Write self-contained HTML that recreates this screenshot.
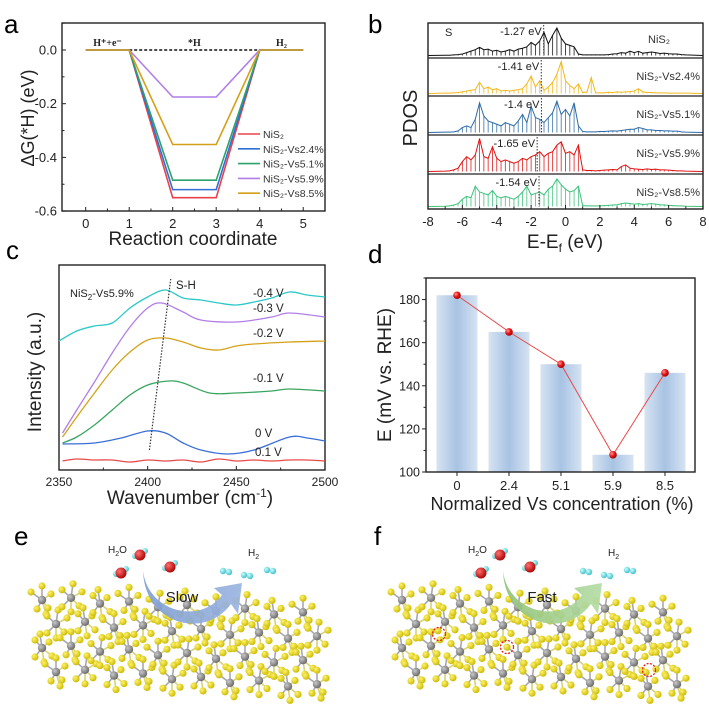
<!DOCTYPE html>
<html><head><meta charset="utf-8"><style>
html,body{margin:0;padding:0;background:#fff}
svg{display:block;font-family:"Liberation Sans",sans-serif}
</style></head><body>
<svg id="fig" width="709" height="724" viewBox="0 0 709 724">
<defs>
<linearGradient id="barg" x1="0" x2="1" y1="0" y2="0"><stop offset="0" stop-color="#d6e3f2"/><stop offset="0.5" stop-color="#a8c3e3"/><stop offset="1" stop-color="#d6e3f2"/></linearGradient>
<radialGradient id="redball" cx="0.35" cy="0.35" r="0.7"><stop offset="0" stop-color="#ff9a9a"/><stop offset="0.5" stop-color="#e81818"/><stop offset="1" stop-color="#900"/></radialGradient>
<radialGradient id="sball" cx="0.35" cy="0.35" r="0.7"><stop offset="0" stop-color="#fff36a"/><stop offset="1" stop-color="#c9b800"/></radialGradient>
<radialGradient id="niball" cx="0.35" cy="0.35" r="0.7"><stop offset="0" stop-color="#c8c8c8"/><stop offset="1" stop-color="#666"/></radialGradient>
<radialGradient id="hball" cx="0.35" cy="0.35" r="0.7"><stop offset="0" stop-color="#c8ffff"/><stop offset="1" stop-color="#3cbcc8"/></radialGradient>
<radialGradient id="oball" cx="0.35" cy="0.35" r="0.7"><stop offset="0" stop-color="#ff7070"/><stop offset="1" stop-color="#a00"/></radialGradient>
<linearGradient id="blueArrow" x1="0" x2="1"><stop offset="0" stop-color="#7f9fd4"/><stop offset="1" stop-color="#9bb4e0"/></linearGradient>
<linearGradient id="greenArrow" x1="0" x2="1"><stop offset="0" stop-color="#8fc27a"/><stop offset="1" stop-color="#b5dca5"/></linearGradient>
</defs>
<g id="pa"></g>
<g id="pb"></g>
<g id="pc"></g>
<g id="pd"></g>
<g id="pe"></g>
<g id="pf"></g>
</svg>
<script>
// ---------- Panel a data ----------
const aSteps = [0,1,2,3,4,5];
const aNames = ["NiS₂","NiS₂-Vs2.4%","NiS₂-Vs5.1%","NiS₂-Vs5.9%","NiS₂-Vs8.5%"];
const aNiS2 = [0,0,-0.55,-0.55,0,0];
const aVs24 = [0,0,-0.52,-0.52,0,0];
const aVs51 = [0,0,-0.485,-0.485,0,0];
const aVs59 = [0,0,-0.175,-0.175,0,0];
const aVs85 = [0,0,-0.352,-0.352,0,0];
const aYTicks = [0.0,-0.2,-0.4,-0.6];
const aXTicks = [0,1,2,3,4,5];
// ---------- Panel b data (E from -7 step 0.25) ----------
const bNames = ["NiS₂","NiS₂-Vs2.4%","NiS₂-Vs5.1%","NiS₂-Vs5.9%","NiS₂-Vs8.5%"];
const bCenters = [-1.27,-1.41,-1.4,-1.65,-1.54];
const bNiS2 = [0.01,0.01,0.02,0.03,0.05,0.1,0.15,0.2,0.28,0.2,0.22,0.15,0.18,0.12,0.15,0.2,0.15,0.22,0.25,0.3,0.45,0.35,0.5,0.8,0.4,0.7,0.95,0.6,0.4,0.35,0.3,0.05,0.02,0.02,0.02,0.02,0.02,0.02,0.03,0.05,0.06,0.1,0.08,0.15,0.1,0.14,0.08,0.1,0.12,0.1,0.07,0.08,0.06,0.05,0.05,0.03,0.02];
const bVs24 = [0.01,0.01,0.02,0.03,0.05,0.08,0.1,0.12,0.35,0.15,0.2,0.12,0.15,0.08,0.1,0.08,0.1,0.12,0.15,0.3,0.55,0.2,0.4,0.1,0.2,0.35,0.6,1.0,0.4,0.25,0.15,0.3,0.03,0.05,0.5,0.02,0.02,0.02,0.04,0.03,0.05,0.04,0.05,0.06,0.08,0.15,0.05,0.03,0.03,0.02,0.02,0.02,0.01,0.01,0.01,0.01,0.01];
const bVs51 = [0.01,0.01,0.02,0.05,0.15,0.2,0.15,0.4,0.9,0.5,0.35,0.3,0.25,0.2,0.3,0.25,0.2,0.35,0.55,0.3,0.8,0.45,0.4,0.3,0.45,0.6,0.95,0.55,0.7,0.5,0.9,0.2,0.03,0.02,0.02,0.02,0.03,0.03,0.04,0.05,0.04,0.06,0.08,0.1,0.1,0.15,0.12,0.08,0.08,0.06,0.06,0.05,0.05,0.04,0.04,0.02,0.01];
const bVs59 = [0.01,0.02,0.05,0.1,0.3,0.45,0.35,0.5,1.0,0.45,0.4,0.75,0.4,0.3,0.35,0.3,0.25,0.3,0.4,0.35,0.45,0.5,0.6,0.45,0.55,0.6,0.8,0.9,0.55,0.6,0.5,0.8,0.05,0.03,0.03,0.02,0.03,0.04,0.05,0.06,0.05,0.15,0.2,0.1,0.08,0.07,0.06,0.08,0.06,0.07,0.05,0.05,0.04,0.03,0.02,0.02,0.01];
const bVs85 = [0.01,0.02,0.05,0.1,0.25,0.35,0.3,0.7,0.5,0.45,0.4,0.55,0.35,0.3,0.35,0.3,0.25,0.35,0.5,0.7,0.4,0.45,0.5,0.4,0.6,0.7,0.95,0.75,0.6,0.5,0.55,0.7,0.03,0.02,0.02,0.02,0.02,0.03,0.04,0.05,0.06,0.1,0.12,0.1,0.08,0.1,0.07,0.08,0.1,0.08,0.06,0.05,0.04,0.03,0.02,0.02,0.01];
const bXTicks = [-8,-6,-4,-2,0,2,4,6,8];
// ---------- Panel c data ----------
const cLabels = ["-0.4 V","-0.3 V","-0.2 V","-0.1 V","0 V","0.1 V"];
const cX_m04 = [2350,2360,2370,2380,2390,2400,2410,2420,2430,2440,2450,2460,2470,2480,2490,2500];
const cY_m04 = [129,139,144,147,162,173,180,172,170,167,165,168,172,178,175,173];
const cX_m03 = [2352,2360,2370,2380,2390,2400,2408,2420,2430,2450,2470,2480,2500];
const cY_m03 = [37,60,88,117,143,162,167,158,150,148,153,157,153];
const cX_m02 = [2352,2360,2370,2380,2390,2400,2410,2420,2430,2440,2450,2460,2480,2500];
const cY_m02 = [33,53,77,100,118,130,132,128,122,120,124,126,128,129];
const cX_m01 = [2352,2360,2370,2380,2390,2400,2412,2420,2435,2450,2470,2480,2500];
const cY_m01 = [27,33,45,60,75,85,89,87,77,77,79,81,79];
const cX_0 = [2352,2370,2385,2400,2410,2420,2430,2445,2460,2480,2490,2500];
const cY_0 = [26,27,32,39,37,27,20,16,20,33,32,29];
const cX_01 = [2352,2360,2370,2380,2390,2400,2410,2420,2430,2440,2450,2460,2470,2480,2490,2500];
const cY_01 = [9,11,10,10,8,10,9,10,8,11,9,10,9,10,10,9];
const cXTicks = [2350,2400,2450,2500];
// ---------- Panel d data ----------
const dCats = ["0","2.4","5.1","5.9","8.5"];
const dVals = [182,165,150,108,146];
const dYTicks = [100,120,140,160,180];

const svg = document.getElementById('fig');
const NS = "http://www.w3.org/2000/svg";
function el(parent, tag, attrs, text){
  const e = document.createElementNS(NS, tag);
  for (const k in attrs) e.setAttribute(k, attrs[k]);
  if (text !== undefined) e.textContent = text;
  parent.appendChild(e);
  return e;
}
function frame(g, x0,y0,x1,y1){
  const r = el(g,'rect',{x:x0,y:y0,width:x1-x0,height:y1-y0,fill:'none',stroke:'#222','stroke-width':1.4});
  
  
}

// ===== Panel a =====
(function(){
  const g = document.getElementById('pa');
  const X0=62,X1=325,Y0=23,Y1=211;
  const sx = v => 85.7 + v*43.5;
  const sy = v => 50 + (-v)/0.2*53.7;
  let t = el(g,'text',{x:4,y:33,'font-size':26},'a');
   
  frame(g,X0,Y0,X1,Y1);
  aYTicks.forEach(v=>{
    el(g,'line',{x1:X0,x2:X0+4,y1:sy(v),y2:sy(v),stroke:'#222'});
    const tl = el(g,'text',{x:X0-5,y:sy(v)+4.5,'font-size':13,'text-anchor':'end',fill:'#222'},v.toFixed(1));
     
  });
  [0.1,-0.1,-0.3,-0.5].forEach(v=>el(g,'line',{x1:X0,x2:X0+2.5,y1:sy(v),y2:sy(v),stroke:'#222'}));
  aXTicks.forEach(v=>{
    el(g,'line',{x1:sx(v),x2:sx(v),y1:Y1,y2:Y1-4,stroke:'#222'});
    const tl = el(g,'text',{x:sx(v),y:Y1+17,'font-size':13,'text-anchor':'middle',fill:'#222'},v);
     
  });
  [0.5,1.5,2.5,3.5,4.5].forEach(v=>el(g,'line',{x1:sx(v),x2:sx(v),y1:Y1,y2:Y1-2.5,stroke:'#222'}));
  t = el(g,'text',{x:193,y:245,'font-size':19,'text-anchor':'middle',fill:'#222'},'Reaction coordinate');
   
  t = el(g,'text',{x:0,y:0,'font-size':18,'text-anchor':'middle',fill:'#222',transform:'translate(34,118) rotate(-90)'},'ΔG(*H)  (eV)');
   
  el(g,'line',{x1:sx(1),x2:sx(4),y1:sy(0),y2:sy(0),stroke:'#111','stroke-width':1.5,'stroke-dasharray':'3,2'});
  const series = [aNiS2,aVs24,aVs51,aVs59,aVs85];
  const cols = ['#e8434b','#2f6fd6','#2ea26a','#b07ee8','#d4a019'];
  series.forEach((s,i)=>{
    const p = el(g,'polyline',{points:aSteps.map((x,k)=>sx(x)+','+sy(s[k])).join(' '),fill:'none',stroke:cols[i],'stroke-width':1.6});
     
    const ly = 134 + i*14.8;
    el(g,'line',{x1:238,x2:260,y1:ly,y2:ly,stroke:cols[i],'stroke-width':1.6});
    const lt = el(g,'text',{x:263,y:ly+4,'font-size':10.5,fill:'#333'},aNames[i]);
     
  });
  const lbl = [['H⁺+e⁻',0.5],['*H',2.5],['H₂',4.5]];
  lbl.forEach(l=>{
    const tt = el(g,'text',{x:sx(l[1]),y:sy(0)-4,'font-size':10,'font-weight':'bold','font-family':'Liberation Serif, serif','text-anchor':'middle',fill:'#222'},l[0]);
     
  });
})();

// ===== Panel b =====
(function(){
  const g = document.getElementById('pb');
  const X0=428,X1=703;
  const sx = v => X0 + (v+8)/16*(X1-X0);
  const bounds = [23,58,96,135,174,209];
  let t = el(g,'text',{x:368,y:33,'font-size':26},'b');
   
  const data = [bNiS2,bVs24,bVs51,bVs59,bVs85];
  const cols = ['#111','#f2b81c','#2e6aa8','#e01010','#3cc07a'];
  data.forEach((d,i)=>{
    const top = bounds[i], bot = bounds[i+1];
    const base = bot - 2.5;
    const h = (bot-top) - 6;
    const sp = el(g,'g',{stroke:cols[i],'stroke-width':0.9,opacity:0.85});
     
    d.forEach((v,k)=>{ el(sp,'line',{x1:sx(-7+k*0.25),x2:sx(-7+k*0.25),y1:base,y2:base-v*h}); });
    const pts = d.map((v,k)=>sx(-7+k*0.25)+','+(base - v*h)).join(' ');
    const p = el(g,'polyline',{points:sx(-8)+','+base+' '+pts+' '+sx(8)+','+base,fill:'none',stroke:cols[i],'stroke-width':1,'stroke-linejoin':'miter'});
     
    el(g,'line',{x1:sx(bCenters[i]),x2:sx(bCenters[i]),y1:top+2,y2:base,stroke:'#333','stroke-dasharray':'1.5,1.5','stroke-width':1});
    const ct = el(g,'text',{x:sx(bCenters[i])-2,y:top+12,'font-size':11,'text-anchor':'end',fill:'#222'},bCenters[i]+' eV');
     
    const nt = i===0 ? el(g,'text',{x:648,y:top+20,'font-size':11,fill:'#333'},bNames[i])
                     : el(g,'text',{x:700,y:top+22,'font-size':11,'text-anchor':'end',fill:'#333'},bNames[i]);
     
    if(i>0) el(g,'line',{x1:X0,x2:X1,y1:top,y2:top,stroke:'#222','stroke-width':1.2});
  });
  frame(g,X0,23,X1,209);
  t = el(g,'text',{x:445,y:36,'font-size':11,fill:'#222'},'S');
   
  bXTicks.forEach(v=>{
    el(g,'line',{x1:sx(v),x2:sx(v),y1:209,y2:205,stroke:'#222'});
    const tl = el(g,'text',{x:sx(v),y:226,'font-size':13,'text-anchor':'middle',fill:'#222'},v);
     
  });
  [-7,-5,-3,-1,1,3,5,7].forEach(v=>el(g,'line',{x1:sx(v),x2:sx(v),y1:209,y2:206.5,stroke:'#222'}));
  t = el(g,'text',{x:565,y:248,'font-size':19,'text-anchor':'middle',fill:'#222'});
   
  el(t,'tspan',{},'E-E');
  el(t,'tspan',{'font-size':12,dy:4},'f');
  el(t,'tspan',{dy:-4},' (eV)');
  t = el(g,'text',{x:0,y:0,'font-size':20,'text-anchor':'middle',fill:'#222',transform:'translate(417,118) rotate(-90)'},'PDOS');
   
})();

// ===== Panel c =====
(function(){
  const g = document.getElementById('pc');
  const X0=59,X1=325,Y0=265,Y1=470;
  const sx = v => X0 + (v-2350)/150*(X1-X0);
  const sy = v => Y1 - v;
  let t = el(g,'text',{x:6,y:259,'font-size':26},'c');
   
  frame(g,X0,Y0,X1,Y1);
  cXTicks.forEach(v=>{
    el(g,'line',{x1:sx(v),x2:sx(v),y1:Y1,y2:Y1-4,stroke:'#222'});
    const tl = el(g,'text',{x:sx(v),y:Y1+16,'font-size':12,'text-anchor':'middle',fill:'#222'},v);
     
  });
  [2375,2425,2475].forEach(v=>el(g,'line',{x1:sx(v),x2:sx(v),y1:Y1,y2:Y1-2.5,stroke:'#222'}));
  function smooth(xs,ys){
    const P = xs.map((x,i)=>[sx(x),sy(ys[i])]);
    let d='M'+P[0][0]+','+P[0][1];
    for(let i=0;i<P.length-1;i++){
      const p0=P[Math.max(0,i-1)],p1=P[i],p2=P[i+1],p3=P[Math.min(P.length-1,i+2)];
      const c1=[p1[0]+(p2[0]-p0[0])/6,p1[1]+(p2[1]-p0[1])/6];
      const c2=[p2[0]-(p3[0]-p1[0])/6,p2[1]-(p3[1]-p1[1])/6];
      d+=' C'+c1+' '+c2+' '+p2;
    }
    return d;
  }
  const S = [[cX_m04,cY_m04,'#2ec8c8'],[cX_m03,cY_m03,'#b17ee6'],[cX_m02,cY_m02,'#d4a21a'],[cX_m01,cY_m01,'#3aa561'],[cX_0,cY_0,'#3a6fd8'],[cX_01,cY_01,'#e84a4a']];
  S.forEach(s=>{
    const p = el(g,'path',{d:smooth(s[0],s[1]),fill:'none',stroke:s[2],'stroke-width':1.3});
     
  });
  const lp = [[253,297],[253,312],[253,337],[253,382],[255,437],[255,456]];
  cLabels.forEach((l,i)=>{
    const tl = el(g,'text',{x:lp[i][0],y:lp[i][1],'font-size':11.5,fill:'#222'},l);
     
  });
  el(g,'line',{x1:sx(2401),x2:sx(2413),y1:450,y2:279,stroke:'#333','stroke-dasharray':'1.5,1.5','stroke-width':1.2});
  t = el(g,'text',{x:176,y:289,'font-size':11.5,fill:'#222'},'S-H');
   
  t = el(g,'text',{x:70,y:297,'font-size':11,fill:'#222'});
   
  el(t,'tspan',{},'NiS'); el(t,'tspan',{'font-size':8,dy:3},'2'); el(t,'tspan',{dy:-3},'-Vs5.9%');
  t = el(g,'text',{x:190,y:504,'font-size':19,'text-anchor':'middle',fill:'#222'});
   
  el(t,'tspan',{},'Wavenumber (cm'); el(t,'tspan',{'font-size':12,dy:-7},'-1'); el(t,'tspan',{dy:7},')');
  t = el(g,'text',{x:0,y:0,'font-size':19,'text-anchor':'middle',fill:'#222',transform:'translate(41,372) rotate(-90)'},'Intensity (a.u.)');
   
})();

// ===== Panel d =====
(function(){
  const g = document.getElementById('pd');
  const X0=426,X1=695,Y0=278,Y1=472;
  const sy = v => Y1 - (v-100)/90*(Y1-Y0);
  const sx = i => 457 + i*52;
  let t = el(g,'text',{x:368,y:263,'font-size':26},'d');
   
  dVals.forEach((v,i)=>{
    const r = el(g,'rect',{x:sx(i)-20.5,y:sy(v),width:41,height:Y1-sy(v),fill:'url(#barg)'});
     
  });
  el(g,'polyline',{points:dVals.map((v,i)=>sx(i)+','+sy(v)).join(' '),fill:'none',stroke:'#e84a4a','stroke-width':1});
  dVals.forEach((v,i)=>{
    const c = el(g,'circle',{cx:sx(i),cy:sy(v),r:3.8,fill:'url(#redball)'});
     
  });
  frame(g,X0,Y0,X1,Y1);
  dYTicks.forEach(v=>{
    el(g,'line',{x1:X0,x2:X0-4,y1:sy(v),y2:sy(v),stroke:'#222'});
    const tl = el(g,'text',{x:X0-6,y:sy(v)+4.5,'font-size':12.5,'text-anchor':'end',fill:'#222'},v);
     
  });
  [110,130,150,170,190].forEach(v=>el(g,'line',{x1:X0,x2:X0-2.5,y1:sy(v),y2:sy(v),stroke:'#222'}));
  dCats.forEach((c,i)=>{
    el(g,'line',{x1:sx(i),x2:sx(i),y1:Y1,y2:Y1+4,stroke:'#222'});
    const tl = el(g,'text',{x:sx(i),y:Y1+18,'font-size':13,'text-anchor':'middle',fill:'#222'},c);
     
  });
  t = el(g,'text',{x:562,y:510,'font-size':18,'text-anchor':'middle',fill:'#222'},'Normalized Vs concentration (%)');
   
  t = el(g,'text',{x:0,y:0,'font-size':19,'text-anchor':'middle',fill:'#222',transform:'translate(391,375) rotate(-90)'},'E (mV vs. RHE)');
   
})();

// ===== Panels e, f (illustrations) =====
function lattice(g, ox, wide){
  const bonds = el(g,'g',{}); const atoms = el(g,'g',{});
   
  const offs = [[-9,-8],[9,-6],[-7,9],[8,8],[0,-14],[2,14]];
  for(let i=0;i<10;i++){
    for(let j=0;j<4;j++){
      const x = ox + 12 + i*29 + (j%2)*14;
      const y = 600 + j*24 + i*1.8 - (i%2)*4;
      if (x > ox+wide) continue;
      offs.forEach((o,k)=>{
        const sxp = x+o[0]+((i+j+k)%3-1)*2, syp = y+o[1];
        el(bonds,'line',{x1:x,y1:y,x2:sxp,y2:syp,stroke:(k%2?'#d8d27a':'#a8a8b0'),'stroke-width':1.6});
        el(atoms,'circle',{cx:sxp,cy:syp,r:3.6,fill:'url(#sball)'});
      });
      el(atoms,'circle',{cx:x,cy:y,r:4.2,fill:'url(#niball)'});
    }
  }
}
function water(g,x,y){
  el(g,'circle',{cx:x-5,cy:y+1,r:3,fill:'url(#hball)'});
  el(g,'circle',{cx:x+5,cy:y-4,r:3,fill:'url(#hball)'});
  el(g,'circle',{cx:x,cy:y,r:5.5,fill:'url(#oball)'});
}
function h2(g,x,y){
  el(g,'circle',{cx:x-3,cy:y,r:3.2,fill:'url(#hball)'});
  el(g,'circle',{cx:x+3,cy:y+1,r:3.2,fill:'url(#hball)'});
}
function illus(id, ox, letter, word, grad, circles){
  const g = document.getElementById(id);
  let t = el(g,'text',{x:ox+14,y:545,'font-size':26},letter);
   
  const lg = el(g,'g',{});  
  lattice(lg, ox+30, 300);
  circles.forEach(c=>{
    const cc = el(g,'circle',{cx:c[0],cy:c[1],r:6.5,fill:'none',stroke:'#e02020','stroke-width':1.3,'stroke-dasharray':'2,1.5'});
     
  });
  const mg = el(g,'g',{});  
  water(mg,ox+140,555); water(mg,ox+121,573); water(mg,ox+170,567);
  const hg = el(g,'g',{});  
  h2(hg,ox+226,571); h2(hg,ox+247,575); h2(hg,ox+270,570);
  t = el(g,'text',{x:ox+108,y:553,'font-size':10,fill:'#222'});
   
  el(t,'tspan',{},'H'); el(t,'tspan',{'font-size':7,dy:3},'2'); el(t,'tspan',{dy:-3},'O');
  t = el(g,'text',{x:ox+248,y:556,'font-size':10,fill:'#222'});
   
  el(t,'tspan',{},'H'); el(t,'tspan',{'font-size':7,dy:3},'2');
  const a = el(g,'path',{d:`M${ox+143},${571} C${ox+148},${612} ${ox+200},${625} ${ox+222},${595} L${ox+214},${588} L${ox+242},${583} L${ox+238},${614} L${ox+231},${604} C${ox+205},${640} ${ox+145},${625} ${ox+143},${571} Z`,fill:grad,opacity:0.92});
   
  t = el(g,'text',{x:ox+182,y:602,'font-size':15,'text-anchor':'middle',fill:'#222'},word);
   
}
illus('pe',0,'e','Slow','url(#blueArrow)',[]);
illus('pf',360,'f','Fast','url(#greenArrow)',[[439,634],[507,647],[649,670]]);
</script>
</body></html>
